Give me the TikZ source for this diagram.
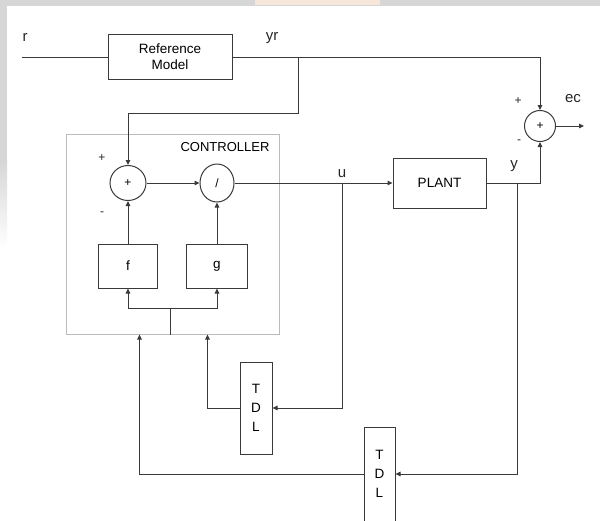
\documentclass[tikz,border=0pt]{standalone}
\usepackage{fontspec}
\setmainfont{Liberation Sans}
\usepackage{tikz}
\usetikzlibrary{arrows.meta,positioning,calc,shapes.geometric}
\definecolor{linegrey}{HTML}{3A3A3A}
\definecolor{framegrey}{HTML}{BBBBBB}
\definecolor{pagegrey}{HTML}{D6D6D6}
\definecolor{pagepeach}{HTML}{F7E6DA}

\begin{document}
\begin{tikzpicture}[x=1pt, y=-1pt,
  block/.style={draw=linegrey, line width=1pt, inner sep=0pt, align=center,
    font=\fontsize{13.5}{16}\selectfont},
  sumnode/.style={draw=linegrey, line width=1pt, ellipse, inner sep=0pt,
    font=\fontsize{12}{14}\selectfont},
  sig/.style={draw=linegrey, line width=1pt},
  sigarrow/.style={sig, -{Triangle[length=5pt,width=4.5pt]}},
  lbl/.style={inner sep=0pt, font=\fontsize{15}{17}\selectfont, text=black!85},
  signlbl/.style={inner sep=0pt, font=\fontsize{12}{14}\selectfont, text=black!85}
]
\useasboundingbox (0,0) rectangle (600,520);
% page edge
\fill[pagegrey] (0,0) rectangle (600,6);
\fill[pagepeach] (255,0) rectangle (380,5);
\fill[pagegrey] (0,0) rectangle (7,160);
\shade[top color=pagegrey, bottom color=white] (0,160) rectangle (7,248);

% controller frame
\node[draw=framegrey, line width=1pt, minimum width=213, minimum height=200,
  inner sep=0pt] (ctrl) at (172.5,234) {};
\node[inner sep=0pt, font=\fontsize{13}{15}\selectfont] (ctrllbl) at (225,147) {CONTROLLER};

% blocks
\node[block, minimum width=124, minimum height=45] (refm) at (170,57) {Reference\\Model};
\node[block, minimum width=93, minimum height=50] (plant) at (439.5,183) {PLANT};
\node[block, minimum width=59, minimum height=44] (f) at (128,266) {f};
\node[block, minimum width=61, minimum height=44] (g) at (217,266) {g};
\node[block, minimum width=32, minimum height=92,
  font=\fontsize{13.5}{19}\selectfont] (tdl1) at (256,408) {T\\D\\L};
\node[block, minimum width=31, minimum height=94,
  font=\fontsize{13.5}{19}\selectfont] (tdl2) at (379.5,474) {T\\D\\L};

% summing / dividing junctions
\node[sumnode, minimum width=36, minimum height=35] (sum1) at (128,183) {+};
\node[sumnode, minimum width=34, minimum height=38] (div) at (217,183) {/};
\node[sumnode, minimum width=31, minimum height=31] (sum2) at (540,126) {+};

% signal labels
\node[lbl] (rlbl) at (25,37) {r};
\node[lbl] (yrlbl) at (272,38) {yr};
\node[lbl] (ulbl) at (342,174) {u};
\node[lbl] (ylbl) at (514,166) {y};
\node[lbl] (eclbl) at (573,99) {ec};
\node[signlbl] (p1) at (102,158) {+};
\node[signlbl] (m1) at (102,214) {-};
\node[signlbl] (p2) at (518,101) {+};
\node[signlbl] (m2) at (519,142) {-};

% branch points
\coordinate (rin) at (22,57);
\coordinate (yrbr) at (298,57);
\coordinate (yrdrop) at (128,113);
\coordinate (ubr) at (342,183);
\coordinate (ybr) at (517,183);
\coordinate (ecout) at (584,126);
\coordinate (busj) at (170,308);

% reference path
\draw[sig] (rin) -- (refm.west);
\draw[sigarrow] (refm.east) -| (sum2.north);
\draw[sigarrow] (yrbr) |- (yrdrop) -- (sum1.north);
\draw[sigarrow] (sum2.east) -- (ecout);

% forward path
\draw[sigarrow] (sum1.east) -- (div.west);
\draw[sigarrow] (div.east) -- (plant.west);
\draw[sigarrow] (plant.east) -| (sum2.south);
\draw[sigarrow] (f.north) -- (sum1.south);
\draw[sigarrow] (g.north) -- (div.south);

% inputs of f and g
\draw[sig] (ctrl.south -| busj) -- (busj);
\draw[sigarrow] (busj) -| (f.south);
\draw[sigarrow] (busj) -| (g.south);

% delay lines
\draw[sigarrow] (ubr) |- (tdl1.east);
\draw[sigarrow] (tdl1.west) -| ([xshift=142pt]ctrl.south west);
\draw[sigarrow] (ybr) |- (tdl2.east);
\draw[sigarrow] (tdl2.west) -| ([xshift=74pt]ctrl.south west);
\end{tikzpicture}
\end{document}
